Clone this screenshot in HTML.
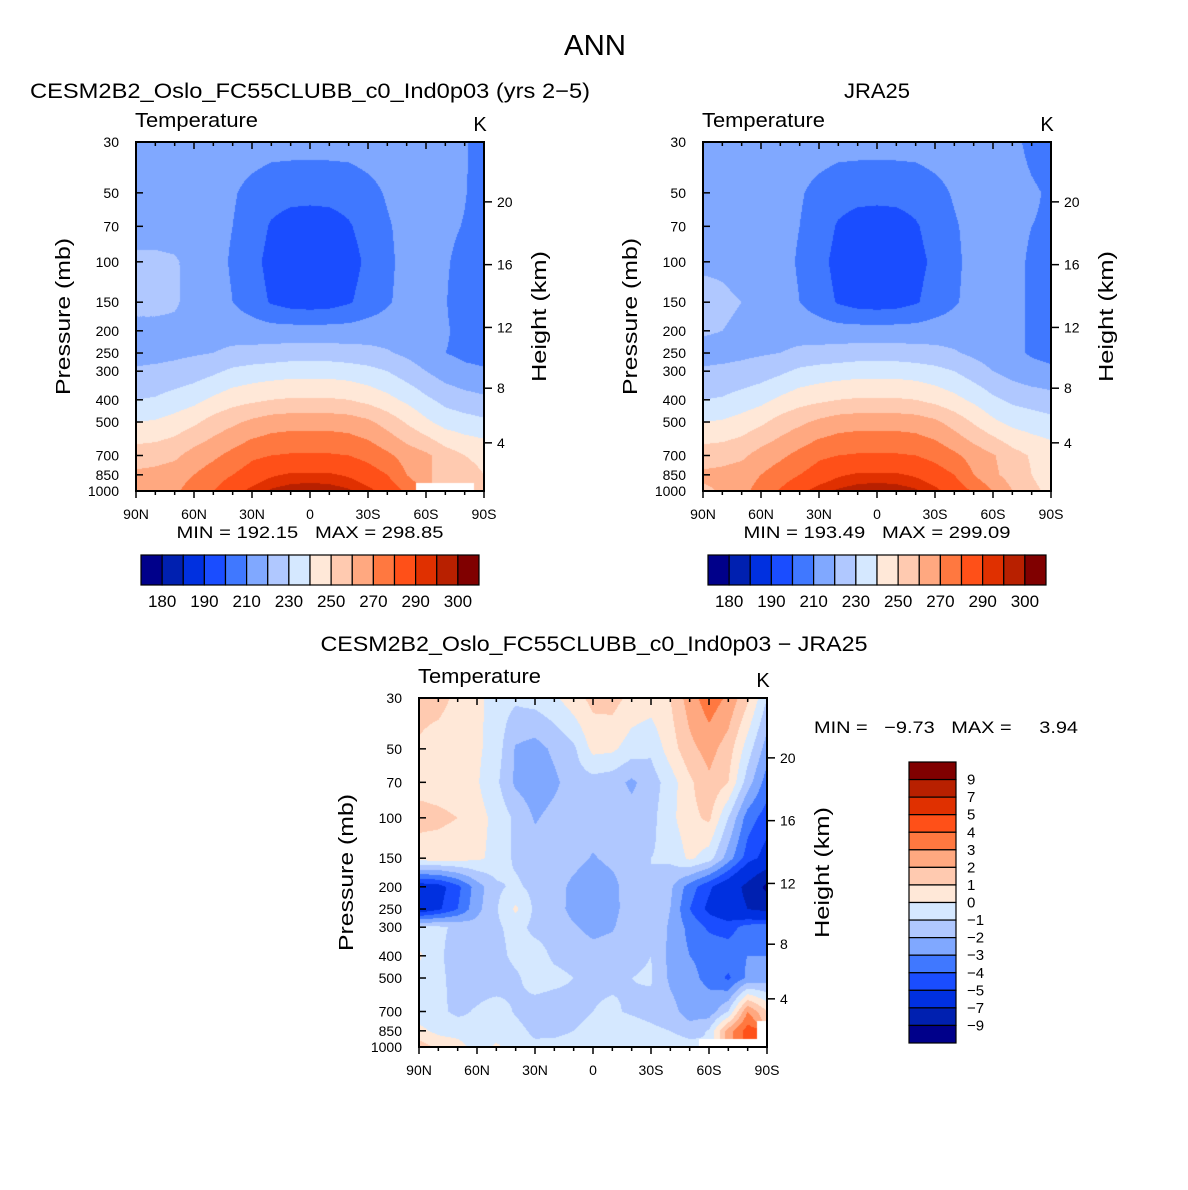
<!DOCTYPE html>
<html><head><meta charset="utf-8">
<style>
html,body{margin:0;padding:0;background:#fff;}
#root{position:relative;width:1188px;height:1190px;overflow:hidden;font-family:"Liberation Sans",sans-serif;}
canvas{position:absolute;}
svg{position:absolute;left:0;top:0;}
text{white-space:pre;}
</style></head>
<body>
<div id="root">
<canvas id="c1" width="348" height="349" style="left:136px;top:142px"></canvas>
<canvas id="c2" width="348" height="349" style="left:703px;top:142px"></canvas>
<canvas id="c3" width="348" height="349" style="left:419px;top:698px"></canvas>
<svg id="ov" width="1188" height="1190"></svg>
</div>
<script>
const lats=["90N","80N","70N","60N","50N","40N","30N","20N","10N","0","10S","20S","30S","40S","50S","60S","70S","80S","90S"];
const plevs=[1000,850,700,500,400,300,250,200,150,100,70,50,30];
const pLabels=[30,50,70,100,150,200,250,300,400,500,700,850,1000];
const kmLabels=[4,8,12,16,20];
const latLabels=["90N","60N","30N","0","30S","60S","90S"];
const tempLevels=[180,185,190,200,210,220,230,240,250,260,270,280,290,295,300];
const tempLabels=["180","190","210","230","250","270","290","300"];
const diffLevels=[-9,-7,-5,-4,-3,-2,-1,0,1,2,3,4,5,7,9];
const diffLabels=["9","7","5","4","3","2","1","0","−1","−2","−3","−4","−5","−7","−9"];
const colors=["#00008a","#0020b0","#0030e0","#1a4dff","#4078ff","#80a8ff","#b0c8ff","#d5e8ff","#ffe8d8","#ffcab0","#ffa880","#ff7840","#ff5018","#e03000","#b82000","#800000"];
const N=NaN;
const modelT=[
[260,262,268,275,280,287,292,296,298,299,298,296,292,287,278,N,N,N,255],
[262,263,265,270,275,280,285,289,291,291,291,289,285,280,270,262,256,253,250],
[255,256,258,264,268,273,278,280,281,281,281,280,277,272,266,262,255,250,248],
[240,241,244,248,254,258,262,265,266,266,266,265,262,256,249,242,236,234,232],
[230,231,234,237,242,246,248,250,251,251,251,250,247,243,238,232,227,224,222],
[221,222,223,225,228,232,234,235,236,236,236,235,233,230,225,220,215,212,211],
[217,217,218,219,220,222,223,224,225,225,225,224,223,221,218,214,210,208,207],
[218,218,218,217,216,216,215,214,214,214,214,214,215,215,214,213,211,207,206],
[222,222,221,217,214,210,205,199,196,195,196,199,204,209,213,213,210.5,205,205],
[222,222,221,217,213,209,203,197,193,192,193,196,202,208,213,213,211,207,205],
[216,216,216,215,213,210,205,199,196,195,196,199,204,209,213,213,212,209.5,205],
[215,215,215,215,214,211,207,204,203,203,203,204,207,211,214,214,213,210.5,206],
[215,215,215,215,215,215,215,214,214,214,214,214,215,215,215,215,214,211,206]];
const obsT=[
[258,261,267,274,281,288,293,296,298,299,298,296,292,286,279,270,260,252,248],
[262,263,265,270,275,280,285,289,291,291,291,289,285,280,270,262,256,250,246],
[255,256,258,264,268,273,278,280,281,281,281,280,277,272,266,261,254,249,246],
[240,241,244,248,254,258,262,265,266,266,266,265,262,256,249,242,237,235,233],
[230,231,234,237,242,246,248,250,251,251,251,250,247,243,238,232,228,226,224],
[221,222,223,225,228,232,234,235,236,236,236,235,233,230,225,220,216,213,212],
[217,217,218,219,220,222,223,224,225,225,225,224,223,221,218,215,212,209,207],
[221,220,219,217,216,216,215,214,214,214,214,214,215,215,214,213,212,209,207],
[222,221,220,217,214,210,205,199,196,195,196,199,204,209,213,213,212,209,207],
[219,219,218,216,213,209,203,197,194,193,194,197,202,208,213,213,212,209,208],
[216,216,216,215,213,210,205,199,196,195,196,199,204,209,213,213,212,210,209],
[215,215,215,215,214,211,207,204,203,203,203,204,207,211,214,214,213,211,209],
[215,215,215,215,215,215,215,214,214,214,214,214,215,215,215,214,212,208,206]];
const diffT=[
[1.5,0.8,0.5,-0.5,0.2,-0.5,-0.8,-0.5,-0.3,-0.2,-0.3,-0.3,-0.5,-0.3,-0.5,N,N,N,N],
[0.3,-0.3,-0.5,-0.8,-0.6,-0.7,-1.2,-1.4,-1.0,-0.6,-0.5,-0.6,-0.8,-1.0,-1.5,-0.9,2.5,4.5,N],
[-0.6,-0.8,-1.2,-0.9,-0.5,-1.1,-1.5,-1.6,-1.4,-1.0,-0.9,-1.1,-1.3,-1.6,-2.5,-2.6,-1.0,3.0,1.0],
[-0.5,-0.8,-1.3,-1.5,-1.6,-1.2,-0.5,-0.7,-1.0,-1.1,-1.1,-1.0,-0.9,-2.2,-2.8,-3.2,-4.2,-2.8,-2.5],
[0.2,-0.8,-1.5,-1.6,-1.4,-0.7,-0.5,-1.2,-1.4,-1.6,-1.5,-1.2,-1.0,-2.3,-3.0,-3.2,-3.3,-3.0,-3.0],
[-0.8,-0.8,-1.2,-1.6,-1.2,-0.6,-1.3,-1.4,-1.9,-2.3,-2.1,-1.4,-1.0,-2.2,-3.3,-4.2,-4.5,-3.5,-3.3],
[-6.0,-5.2,-4.0,-2.3,-1.1,0.2,-1.2,-1.6,-2.3,-2.7,-2.3,-1.5,-1.0,-2.0,-4.0,-5.3,-6.0,-7.0,-7.5],
[-5.8,-5.5,-4.3,-2.5,-1.2,-0.8,-1.3,-1.5,-2.3,-2.8,-2.4,-1.3,-1.0,-1.8,-3.5,-4.8,-6.0,-7.5,-9.5],
[0.5,0.5,0.4,0.2,-0.3,-1.2,-1.5,-1.3,-1.6,-2.1,-1.7,-1.3,-1.0,-0.8,0.2,-0.5,-2.5,-4.5,-5.5],
[1.3,1.2,1.0,0.4,-0.3,-1.2,-2.1,-1.7,-1.5,-1.4,-1.4,-1.6,-1.3,-0.3,0.7,1.2,-1.0,-3.5,-4.5],
[0.7,0.6,0.5,0.1,-0.8,-2.2,-2.6,-2.2,-1.5,-1.4,-1.6,-2.2,-1.5,-0.5,0.8,1.8,1.0,-1.5,-3.5],
[0.9,0.6,0.4,0.2,-0.5,-2.1,-2.4,-1.8,-1.2,0.3,0.2,-0.5,-0.8,0.5,1.7,2.4,1.5,-0.5,-2.5],
[1.3,1.3,0.8,0.3,-0.5,-0.8,-0.6,-0.2,0.6,1.3,1.4,0.7,0.5,1.0,2.5,3.6,2.8,1.2,-1.0]];

const W=348,H=349;
function yOfP(p){return H*Math.log(p/30)/Math.log(1000/30);}
function hexRGB(h){return [parseInt(h.substr(1,2),16),parseInt(h.substr(3,2),16),parseInt(h.substr(5,2),16)];}
const rgb=colors.map(hexRGB);
function drawField(id,grid,levels){
  const ctx=document.getElementById(id).getContext('2d');
  const img=ctx.createImageData(W,H);
  const ys=plevs.map(yOfP);
  for(let py=0;py<H;py++){
    const yy=py+0.5;
    let i=0; while(i<plevs.length-2 && yy<ys[i+1]) i++;
    let fy=(ys[i]-yy)/(ys[i]-ys[i+1]); fy=Math.max(0,Math.min(1,fy));
    for(let px=0;px<W;px++){
      const fxAll=(px+0.5)/W*(lats.length-1);
      const j=Math.min(lats.length-2,Math.floor(fxAll)); const fx=fxAll-j;
      const ni=fy<0.5?i:i+1, nj=fx<0.5?j:j+1;
      const k=(py*W+px)*4;
      if(isNaN(grid[ni][nj])){img.data[k]=255;img.data[k+1]=255;img.data[k+2]=255;img.data[k+3]=255;continue;}
      const c=[[grid[i][j],(1-fx)*(1-fy)],[grid[i][j+1],fx*(1-fy)],[grid[i+1][j],(1-fx)*fy],[grid[i+1][j+1],fx*fy]];
      let s=0,ws=0; c.forEach(([v,w])=>{if(!isNaN(v)){s+=v*w;ws+=w;}});
      const v=s/ws;
      let b=0; while(b<levels.length && v>=levels[b]) b++;
      const col=rgb[b];
      img.data[k]=col[0];img.data[k+1]=col[1];img.data[k+2]=col[2];img.data[k+3]=255;
    }
  }
  ctx.putImageData(img,0,0);
}
drawField('c1',modelT,tempLevels);
drawField('c2',obsT,tempLevels);
drawField('c3',diffT,diffLevels);

const svg=document.getElementById('ov');
const NS="http://www.w3.org/2000/svg";
function mk(tag,attrs,parent){const e=document.createElementNS(NS,tag);for(const a in attrs)e.setAttribute(a,attrs[a]);(parent||svg).appendChild(e);return e;}
function txt(x,y,s,size,anchor,name,len){const t=mk('text',{x:x,y:y,'font-size':size,'text-anchor':anchor||'middle',fill:'#000','font-family':'Liberation Sans, sans-serif'});t.textContent=s;
if(len){t.setAttribute('textLength',len);t.setAttribute('lengthAdjust','spacingAndGlyphs');}


return t;}
function kmToP(z){return z<=11?1013.25*Math.pow(1-0.0065*z*1000/288.15,5.2559):226.32*Math.exp(-(z-11)/6.3416);}

function axes(ox,oy,pre){
  const g=mk('g',{});
  
  
  mk('rect',{x:ox,y:oy,width:W,height:H,fill:'none',stroke:'#000','stroke-width':2},g);
  for(let d=0;d<=18;d++){
    const x=ox+d*W/18, maj=d%3===0;
    mk('line',{x1:x,y1:oy,x2:x,y2:oy+(maj?7:4),stroke:'#000','stroke-width':1.5},g);
    mk('line',{x1:x,y1:oy+H,x2:x,y2:oy+H+(maj?7:4),stroke:'#000','stroke-width':1.5},g);
  }
  latLabels.forEach((l,k)=>txt(ox+k*W/6,oy+H+28,l,14,'middle',pre+'-lat-label'));
  pLabels.forEach(p=>{const y=oy+yOfP(p);
    mk('line',{x1:ox,y1:y,x2:ox+7,y2:y,stroke:'#000','stroke-width':1.5},g);
    txt(ox-17,y+5,String(p),14,'end',pre+'-pressure-label');});
  kmLabels.forEach(z=>{const y=oy+yOfP(kmToP(z));
    mk('line',{x1:ox+W,y1:y,x2:ox+W+8,y2:y,stroke:'#000','stroke-width':1.5},g);
    txt(ox+W+13,y+5,String(z),14,'start',pre+'-height-label');});
  txt(ox-1,oy-15,'Temperature',20,'start',pre+'-variable-label',123);
  txt(ox+W-4,oy-11,'K',20,'middle',pre+'-units-label');
  const t1=txt(0,0,'Pressure (mb)',20,'middle',pre+'-y-axis-title',157);
  t1.setAttribute('transform','translate('+(ox-66)+','+(oy+H/2)+') rotate(-90)');
  const t2=txt(0,0,'Height (km)',20,'middle',pre+'-y2-axis-title',131);
  t2.setAttribute('transform','translate('+(ox+W+62)+','+(oy+H/2)+') rotate(-90)');
}
txt(595,55,'ANN',29,'middle','figure-title',62);
txt(310,98,'CESM2B2_Oslo_FC55CLUBB_c0_Ind0p03 (yrs 2−5)',21,'middle','model-panel-title',560);
txt(877,98,'JRA25',21,'middle','obs-panel-title',66);
txt(594,651,'CESM2B2_Oslo_FC55CLUBB_c0_Ind0p03 − JRA25',21,'middle','diff-panel-title',547);
axes(136,142,'model');axes(703,142,'obs');axes(419,698,'diff');
txt(310,538,'MIN = 192.15   MAX = 298.85',17,'middle','model-min-max',267);
txt(877,538,'MIN = 193.49   MAX = 299.09',17,'middle','obs-min-max',267);
txt(814,733,'MIN =   −9.73   MAX =     3.94',17,'start','diff-min-max',264);

function hbar(x0,pre){
  const g=mk('g',{});
  
  
  const bw=338/16;
  colors.forEach((c,k)=>{const r=mk('rect',{x:x0+k*bw,y:555,width:bw,height:30,fill:c,stroke:'#000','stroke-width':1.2},g);
    
    });
  tempLabels.forEach((l,k)=>txt(x0+(2*k+1)*bw,607,l,17,'middle',pre+'-colorbar-label'));
}
hbar(141,'model');hbar(708,'obs');
(function(){
  const g=mk('g',{});
  
  
  const bh=281/16;
  colors.slice().reverse().forEach((c,k)=>{const r=mk('rect',{x:909,y:762+k*bh,width:47,height:bh,fill:c,stroke:'#000','stroke-width':1.2},g);
    
    });
  diffLabels.forEach((l,k)=>txt(967,762+(k+1)*bh+5,l,15,'start','diff-colorbar-label'));
})();
</script>
</body></html>
